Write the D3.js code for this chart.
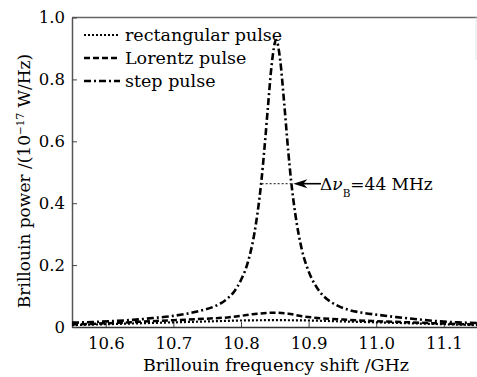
<!DOCTYPE html>
<html>
<head>
<meta charset="utf-8">
<script src="https://cdn.jsdelivr.net/npm/d3@7/dist/d3.min.js"></script>
<style>
  body { margin: 0; background: #fff; }
  svg { display: block; }
  text { font-family: "DejaVu Serif", "Liberation Serif", serif; fill: #000; }
</style>
</head>
<body>
<div id="chart"></div>
<script>
// step pulse (dash-dot)
const stepFreq = [10.55, 10.58, 10.61, 10.64, 10.67, 10.70, 10.72, 10.74, 10.76, 10.78, 10.79, 10.80, 10.81, 10.82,
  10.825, 10.83, 10.835, 10.84, 10.845, 10.852, 10.858, 10.864, 10.87, 10.875, 10.88, 10.89, 10.90, 10.91,
  10.92, 10.94, 10.96, 10.98, 11.00, 11.03, 11.06, 11.09, 11.12, 11.15];
const stepPower = [0.014, 0.016, 0.019, 0.023, 0.029, 0.036, 0.043, 0.053, 0.066, 0.092, 0.115, 0.152, 0.208, 0.305,
  0.377, 0.468, 0.585, 0.715, 0.840, 0.927, 0.862, 0.720, 0.565, 0.455, 0.370, 0.250, 0.180, 0.135,
  0.105, 0.072, 0.055, 0.046, 0.040, 0.032, 0.025, 0.019, 0.015, 0.013];

// Lorentz pulse (dashed)
const lorentzFreq = [10.55, 10.60, 10.65, 10.70, 10.75, 10.78, 10.80, 10.82, 10.85, 10.87, 10.89, 10.92, 10.95, 11.00, 11.05, 11.10, 11.15];
const lorentzPower = [0.008, 0.012, 0.017, 0.022, 0.027, 0.031, 0.036, 0.042, 0.046, 0.043, 0.035, 0.028, 0.024, 0.019, 0.015, 0.011, 0.008];

// rectangular pulse (dotted)
const rectFreq = [10.55, 10.60, 10.65, 10.70, 10.75, 10.80, 10.85, 10.90, 10.95, 11.00, 11.05, 11.10, 11.15];
const rectPower = [0.006, 0.009, 0.012, 0.015, 0.018, 0.021, 0.022, 0.021, 0.018, 0.015, 0.012, 0.009, 0.006];

const xTicks = [10.6, 10.7, 10.8, 10.9, 11.0, 11.1];
const yTicks = [0, 0.2, 0.4, 0.6, 0.8, 1.0];
const legendNames = ["rectangular pulse", "Lorentz pulse", "step pulse"];

// FWHM marker
const halfMax = 0.463;
const fwhmBounds = [10.8305, 10.8745];

const width = 477, height = 377;
const plotLeft = 72, plotRight = 477.6, plotTop = 17.5, plotBottom = 327;

const svg = d3.select("#chart").append("svg")
    .attr("width", width)
    .attr("height", height);

const x = d3.scaleLinear().domain([10.55, 11.15]).range([plotLeft, plotRight]);
const y = d3.scaleLinear().domain([0, 1.0]).range([plotBottom, plotTop]);

// frame
svg.append("line").attr("x1", plotLeft).attr("x2", width).attr("y1", plotTop).attr("y2", plotTop)
    .attr("stroke", "#666").attr("stroke-width", 1.5);
svg.append("line").attr("x1", 476).attr("x2", 476).attr("y1", plotTop).attr("y2", 60)
    .attr("stroke", "#e4e4e4").attr("stroke-width", 1);

// axes
const xAxis = svg.append("g")
    .attr("transform", "translate(0," + plotBottom + ")")
    .call(d3.axisBottom(x).tickValues(xTicks).tickFormat(d3.format(".1f")).tickSizeInner(-5).tickSizeOuter(0).tickPadding(8));
xAxis.select(".domain").attr("stroke", "#333").attr("stroke-width", 1.5);
xAxis.selectAll(".tick line").attr("stroke", "#444").attr("stroke-width", 1);
xAxis.selectAll("text").style("font-size", "16.5px").attr("fill", "#000").attr("dy", "0.85em");

const yAxis = svg.append("g")
    .attr("transform", "translate(" + plotLeft + ",0)")
    .call(d3.axisLeft(y).tickValues(yTicks).tickFormat(d => d === 0 ? "0" : d3.format(".1f")(d)).tickSizeInner(-5).tickSizeOuter(0).tickPadding(7));
yAxis.select(".domain").attr("stroke", "#555").attr("stroke-width", 1.5);
yAxis.selectAll(".tick line").attr("stroke", "#444").attr("stroke-width", 1);
yAxis.selectAll("text").style("font-size", "16.5px").attr("fill", "#000");

// axis titles
svg.append("text")
    .attr("x", 276)
    .attr("y", 371)
    .attr("text-anchor", "middle")
    .style("font-size", "17.5px")
    .text("Brillouin frequency shift /GHz");

const yTitle = svg.append("text")
    .attr("transform", "translate(30," + 181 + ") rotate(-90)")
    .attr("text-anchor", "middle")
    .style("font-size", "17px");
yTitle.append("tspan").text("Brillouin power /(10");
yTitle.append("tspan").attr("baseline-shift", "super").style("font-size", "10.5px").text("\u221217");
yTitle.append("tspan").text(" W/Hz)");

// curves
const line = d3.line()
    .x(d => x(d[0]))
    .y(d => y(d[1]))
    .curve(d3.curveMonotoneX);

const series = [
  { name: "rectangular pulse", f: rectFreq, p: rectPower, dash: "2,2", w: 2.2 },
  { name: "Lorentz pulse", f: lorentzFreq, p: lorentzPower, dash: "6,3", w: 2.5 },
  { name: "step pulse", f: stepFreq, p: stepPower, dash: "7,3,2,3", w: 2.6 }
];

svg.selectAll(".curve")
    .data(series)
    .enter()
    .append("path")
    .attr("class", "curve")
    .attr("fill", "none")
    .attr("stroke", "#000")
    .attr("stroke-width", d => d.w)
    .attr("stroke-dasharray", d => d.dash)
    .attr("d", d => line(d.f.map((v, i) => [v, d.p[i]])));

// FWHM marker
svg.append("line")
    .attr("x1", x(fwhmBounds[0])).attr("x2", x(fwhmBounds[1]))
    .attr("y1", y(halfMax)).attr("y2", y(halfMax))
    .attr("stroke", "#444").attr("stroke-width", 1.2).attr("stroke-dasharray", "2,2");

const tipX = x(fwhmBounds[1]) + 2, arrowY = y(halfMax);
svg.append("line")
    .attr("x1", tipX + 8).attr("x2", 321)
    .attr("y1", arrowY).attr("y2", arrowY)
    .attr("stroke", "#000").attr("stroke-width", 1.6);
svg.append("path")
    .attr("d", `M${tipX},${arrowY} L${tipX + 14},${arrowY - 4.5} L${tipX + 10},${arrowY} L${tipX + 14},${arrowY + 4.5} Z`)
    .attr("fill", "#000");

const note = svg.append("text")
    .attr("x", 320)
    .attr("y", 190)
    .style("font-size", "17px");
note.append("tspan").text("\u0394");
note.append("tspan").style("font-style", "italic").text("\u03bd");
note.append("tspan").attr("dy", 7).style("font-size", "10.5px").text("B");
note.append("tspan").attr("dy", -7).text("=44 MHz");

// legend
const legend = svg.selectAll(".legend")
    .data(series)
    .enter()
    .append("g")
    .attr("class", "legend")
    .attr("transform", (d, i) => "translate(84," + (35 + i * 23) + ")");

legend.append("line")
    .attr("x1", 0).attr("x2", 36)
    .attr("y1", 0).attr("y2", 0)
    .attr("stroke", "#000")
    .attr("stroke-width", d => d.w)
    .attr("stroke-dasharray", d => d.dash);

legend.append("text")
    .attr("x", 41)
    .attr("y", 0)
    .attr("dy", "0.35em")
    .style("font-size", "17.5px")
    .text((d, i) => legendNames[i]);
</script>
</body>
</html>
